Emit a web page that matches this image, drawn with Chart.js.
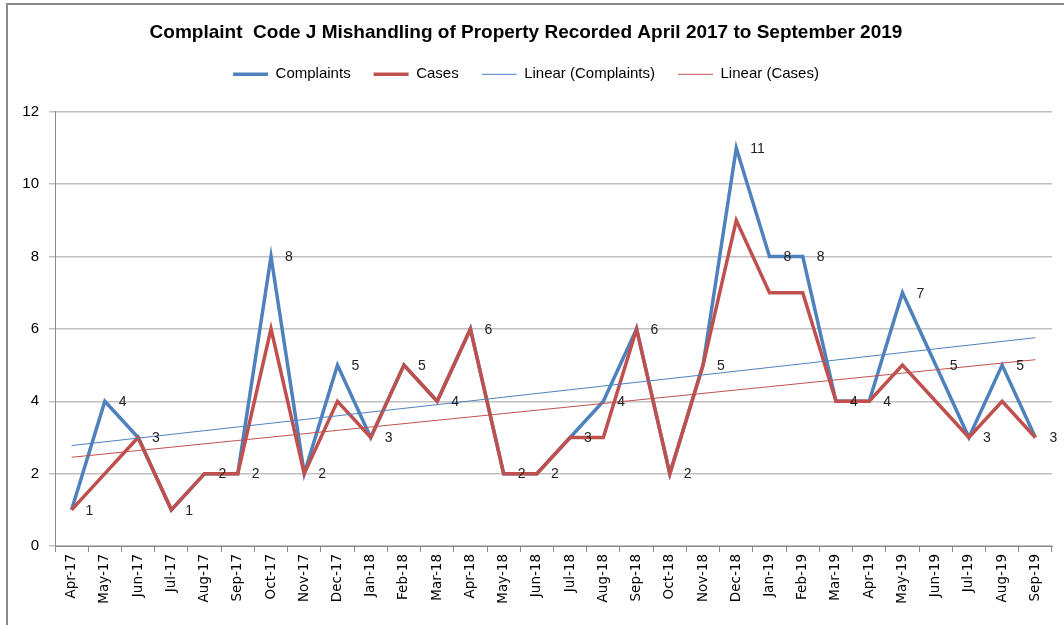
<!DOCTYPE html>
<html>
<head>
<meta charset="utf-8">
<script src="https://cdn.jsdelivr.net/npm/chart.js@4.4.0/dist/chart.umd.min.js"></script>
<style>
    html, body { margin: 0; padding: 0; background: #fff; }
    #wrap { position: relative; width: 1064px; height: 625px; overflow: hidden; }
    #frame { position: absolute; left: 6px; top: 3px; width: 1100px; height: 700px; border: 2px solid #8a8a8a; box-sizing: border-box; }
    #chart { position: absolute; left: 0; top: 0; }
</style>
</head>
<body>
<div id="wrap">
    <div id="frame"></div>
    <canvas id="chart" width="1064" height="625"></canvas>
</div>
<script>
// 월별 데이터 (Apr-17 ~ Sep-19)
var months = ['Apr-17', 'May-17', 'Jun-17', 'Jul-17', 'Aug-17', 'Sep-17', 'Oct-17', 'Nov-17', 'Dec-17',
              'Jan-18', 'Feb-18', 'Mar-18', 'Apr-18', 'May-18', 'Jun-18', 'Jul-18', 'Aug-18', 'Sep-18',
              'Oct-18', 'Nov-18', 'Dec-18', 'Jan-19', 'Feb-19', 'Mar-19', 'Apr-19', 'May-19', 'Jun-19',
              'Jul-19', 'Aug-19', 'Sep-19'];
var complaints = [1, 4, 3, 1, 2, 2, 8, 2, 5, 3, 5, 4, 6, 2, 2, 3, 4, 6, 2, 5, 11, 8, 8, 4, 4, 7, 5, 3, 5, 3];
var cases      = [1, 2, 3, 1, 2, 2, 6, 2, 4, 3, 5, 4, 6, 2, 2, 3, 3, 6, 2, 5, 9, 7, 7, 4, 4, 5, 4, 3, 4, 3];
var yTicks = [0, 2, 4, 6, 8, 10, 12];

var blue = '#4F81BD';
var red = '#C0504D';

// 선형 추세선 (최소제곱)
function linearTrend(values) {
    var n = values.length, sx = 0, sy = 0, sxy = 0, sxx = 0;
    for (var i = 0; i < n; i++) {
        sx += i; sy += values[i]; sxy += i * values[i]; sxx += i * i;
    }
    var slope = (n * sxy - sx * sy) / (n * sxx - sx * sx);
    var icpt = (sy - slope * sx) / n;
    return values.map(function(v, i) { return icpt + slope * i; });
}

// 민원 수치 라벨 (점 오른쪽)
var valueLabels = {
    id: 'valueLabels',
    afterDatasetsDraw: function(chart) {
        var ctx = chart.ctx;
        var meta = chart.getDatasetMeta(0);
        ctx.save();
        ctx.font = '14px "Liberation Sans", Arial, sans-serif';
        ctx.fillStyle = '#222';
        ctx.textAlign = 'left';
        ctx.textBaseline = 'middle';
        meta.data.forEach(function(pt, i) {
            ctx.fillText(String(complaints[i]), pt.x + 14, pt.y + 1);
        });
        ctx.restore();
    }
};

// 범례 아래 여백
var legendGap = {
    id: 'legendGap',
    beforeInit: function(chart) {
        var fit = chart.legend.fit;
        chart.legend.fit = function() {
            fit.bind(chart.legend)();
            this.height += 20;
        };
    }
};

var ctx = document.getElementById('chart').getContext('2d');
var lineChart = new Chart(ctx, {
    type: 'line',
    data: {
        labels: months,
        datasets: [
            {
                label: 'Complaints',
                data: complaints,
                borderColor: blue,
                backgroundColor: blue,
                borderWidth: 3.5,
                pointRadius: 0,
                fill: false,
                tension: 0,
                order: 3
            },
            {
                label: 'Cases',
                data: cases,
                borderColor: red,
                backgroundColor: red,
                borderWidth: 3.5,
                pointRadius: 0,
                fill: false,
                tension: 0,
                order: 2
            },
            {
                label: 'Linear (Complaints)',
                data: linearTrend(complaints),
                borderColor: blue,
                backgroundColor: blue,
                borderWidth: 1,
                pointRadius: 0,
                fill: false,
                order: 1
            },
            {
                label: 'Linear (Cases)',
                data: linearTrend(cases),
                borderColor: red,
                backgroundColor: red,
                borderWidth: 1,
                pointRadius: 0,
                fill: false,
                order: 0
            }
        ]
    },
    options: {
        responsive: false,
        animation: false,
        layout: { padding: { top: 0, right: 12, left: 0, bottom: 0 } },
        plugins: {
            title: {
                display: true,
                text: 'Complaint  Code J Mishandling of Property Recorded April 2017 to September 2019',
                color: '#000',
                font: { family: '"Liberation Sans", Arial, sans-serif', size: 19, weight: 'bold', lineHeight: 1.2 },
                padding: { top: 21, bottom: 0 }
            },
            legend: {
                display: true,
                labels: {
                    usePointStyle: true,
                    pointStyle: 'line',
                    pointStyleWidth: 35,
                    padding: 23,
                    color: '#000',
                    font: { family: '"Liberation Sans", Arial, sans-serif', size: 15 },
                    sort: function(a, b) { return a.datasetIndex - b.datasetIndex; }
                }
            },
            tooltip: { enabled: false }
        },
        scales: {
            x: {
                offset: true,
                grid: {
                    offset: true,
                    drawOnChartArea: false,
                    drawTicks: true,
                    tickLength: 6,
                    color: '#8a8a8a'
                },
                border: { color: '#8a8a8a' },
                ticks: {
                    minRotation: 90,
                    maxRotation: 90,
                    autoSkip: false,
                    padding: 2,
                    color: '#000',
                    font: { family: '"DejaVu Sans", Verdana, sans-serif', size: 13.5 }
                },
                afterFit: function(scale) { scale.height = 79; }
            },
            y: {
                min: 0,
                max: 12,
                afterBuildTicks: function(scale) {
                    scale.ticks = yTicks.map(function(v) { return { value: v }; });
                },
                grid: {
                    color: '#c0c0c0',
                    lineWidth: 1.5,
                    tickLength: 6
                },
                border: { color: '#8a8a8a' },
                ticks: {
                    padding: 10,
                    color: '#000',
                    font: { family: '"Liberation Sans", Arial, sans-serif', size: 15 }
                },
                afterFit: function(scale) { scale.width = 55; }
            }
        }
    },
    plugins: [valueLabels, legendGap]
});
</script>
</body>
</html>
